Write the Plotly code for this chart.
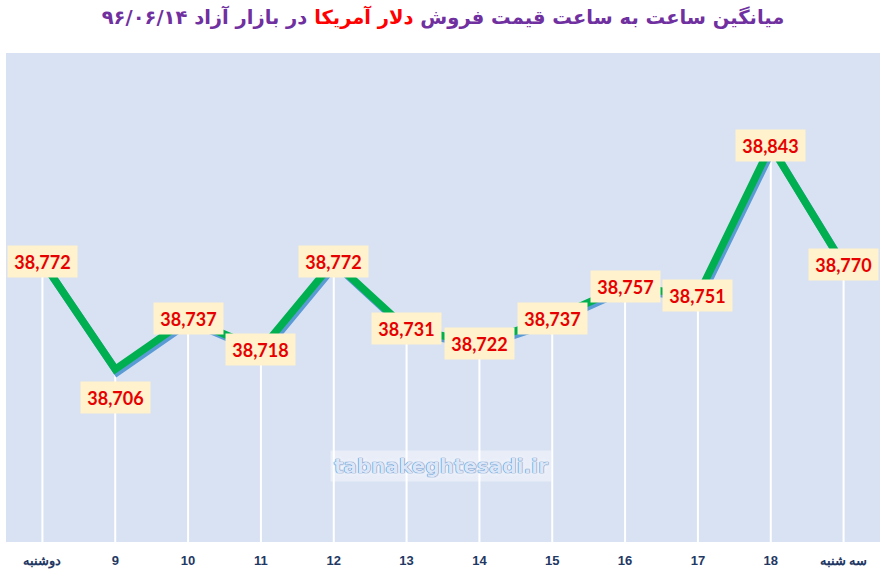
import plotly.graph_objects as go

# --- data ---
hours = ["دوشنبه", "9", "10", "11", "12", "13", "14", "15", "16", "17", "18", "سه شنبه"]
prices = [38772, 38706, 38737, 38718, 38772, 38731, 38722, 38737, 38757, 38751, 38843, 38770]
y_floor = 38600
y_ceil = 38900

# --- styles ---
PLOT_BG = "#d9e2f3"
LINE_GREEN = "#00b050"
SHADOW_BLUE = "#5b9bd5"
LABEL_BG = "#fff2cc"
LABEL_RED = "#e60000"
TITLE_PURPLE = "#7030a0"
TICK_BLUE = "#1f3864"
LABEL_BELOW = {"9"}  # labels placed under the point instead of on it

W, H = 886, 575
M = dict(l=6, r=6, t=53, b=33)
plot_w = W - M["l"] - M["r"]
plot_h = H - M["t"] - M["b"]

# shadow offset (px) -> axis units
sx = 2 / (plot_w / len(hours))
sy = 3 / (plot_h / (y_ceil - y_floor))

fig = go.Figure()

# white drop lines from each point to the floor
fig.add_trace(go.Scatter(
    x=hours, y=prices, mode="markers",
    marker=dict(size=1, color="rgba(0,0,0,0)"),
    error_y=dict(type="data", symmetric=False, array=[0] * len(prices),
                 arrayminus=[p - y_floor for p in prices],
                 color="white", thickness=2, width=0),
    hoverinfo="skip", showlegend=False,
))

# blue shadow under the green line (drawn on a slightly shifted axis pair)
fig.add_trace(go.Scatter(
    x=hours, y=prices, mode="lines", xaxis="x2", yaxis="y2",
    line=dict(color=SHADOW_BLUE, width=7.5),
    hoverinfo="skip", showlegend=False,
))

# green line on an overlay with the same ranges as the main axes
fig.add_trace(go.Scatter(
    x=hours, y=prices, mode="lines", xaxis="x3", yaxis="y3",
    line=dict(color=LINE_GREEN, width=7.5),
    showlegend=False,
))

for i, (h, p) in enumerate(zip(hours, prices)):
    fig.add_annotation(
        x=i, y=p, text=f"{p:,}", showarrow=False,
        yshift=-28 if h in LABEL_BELOW else 0,
        bgcolor=LABEL_BG, width=67, height=29,
        font=dict(family="Lato, Open Sans, sans-serif", size=18, color=LABEL_RED, weight="bold"),
    )

# watermark
fig.add_annotation(
    x=0.498, y=0.123, xref="paper", yref="paper", showarrow=False,
    text="tabnakeghtesadi.ir", bgcolor="rgba(255,255,255,0.4)", borderpad=3,
    font=dict(family="DejaVu Sans, sans-serif", size=20, color="#dbe7f8", weight="bold",
              shadow="0 0 1px #3f72b8, 0 0 1px #3f72b8, 0 0 5px #ffffff"),
)

cat_range = [-0.5, len(hours) - 0.5]

fig.update_layout(
    width=W, height=H, margin=M,
    paper_bgcolor="white", plot_bgcolor=PLOT_BG,
    title=dict(
        text=("میانگین ساعت به ساعت قیمت فروش "
              f"<span style='color:#ff0000'>دلار آمریکا</span>"
              " در بازار آزاد ۹۶/۰۶/۱۴"),
        x=0.5, xanchor="center", y=0.97, yanchor="middle",
        font=dict(family="DejaVu Sans, sans-serif", size=19.5, color=TITLE_PURPLE, weight="bold"),
    ),
    xaxis=dict(type="category", range=cat_range, showgrid=False, automargin=False,
               zeroline=False, showline=False, ticks="", ticklabelstandoff=9,
               tickfont=dict(family="Liberation Sans Narrow, Liberation Sans, sans-serif",
                             size=13, color=TICK_BLUE, weight="bold")),
    yaxis=dict(range=[y_floor, y_ceil], showgrid=False, zeroline=False, automargin=False,
               showticklabels=False, ticks=""),
    xaxis2=dict(type="category", overlaying="x", visible=False,
                range=[cat_range[0] - sx, cat_range[1] - sx]),
    yaxis2=dict(overlaying="y", range=[y_floor + sy, y_ceil + sy], visible=False),
    xaxis3=dict(type="category", overlaying="x", range=cat_range, visible=False),
    yaxis3=dict(overlaying="y", range=[y_floor, y_ceil], visible=False),
)

# drop the browser's default body margin so the figure sits at the page corner
fig.write_html("out.html", config={"displayModeBar": False},
               post_script="document.body.style.margin='0';")
